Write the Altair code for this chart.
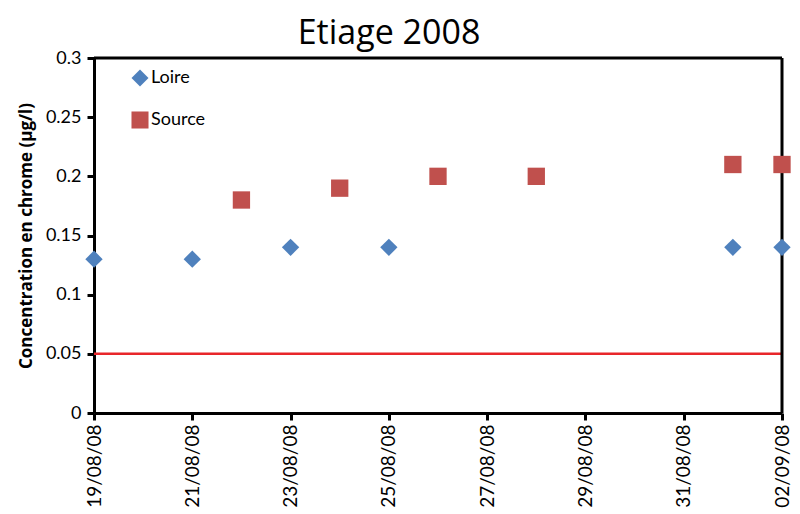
import altair as alt
import pandas as pd

loire_dates = ["2008-08-19", "2008-08-21", "2008-08-23", "2008-08-25", "2008-09-01", "2008-09-02"]
loire_values = [0.13, 0.13, 0.14, 0.14, 0.14, 0.14]
source_dates = ["2008-08-22", "2008-08-24", "2008-08-26", "2008-08-28", "2008-09-01", "2008-09-02"]
source_values = [0.18, 0.19, 0.20, 0.20, 0.21, 0.21]
threshold = 0.05
tick_dates = [(2008, 8, 19), (2008, 8, 21), (2008, 8, 23), (2008, 8, 25), (2008, 8, 27),
              (2008, 8, 29), (2008, 8, 31), (2008, 9, 2)]
y_max = 0.3

df = pd.DataFrame({
    "date": loire_dates + source_dates,
    "value": loire_values + source_values,
    "series": ["Loire"] * len(loire_dates) + ["Source"] * len(source_dates),
})

FONT = "Lato"
x_start = alt.DateTime(year=2008, month=8, date=19, utc=True)
x_end = alt.DateTime(year=2008, month=9, date=2, utc=True)

x_scale = alt.Scale(type="utc", domain=[x_start, x_end])
y_scale = alt.Scale(domain=[0, y_max], nice=False)

x = alt.X(
    "date:T",
    scale=x_scale,
    axis=alt.Axis(
        title=None,
        format="%d/%m/%y",
        values=[alt.DateTime(year=y, month=m, date=d, utc=True) for (y, m, d) in tick_dates],
        labelAngle=-90,
        labelAlign="right",
        labelBaseline="middle",
        labelFontSize=19,
        labelFont=FONT,
        labelColor="black",
        labelPadding=4,
        labelOverlap=False,
        domainColor="black",
        domainWidth=3,
        tickColor="black",
        tickWidth=3,
        tickSize=7,
        grid=False,
    ),
)

y = alt.Y(
    "value:Q",
    scale=y_scale,
    axis=alt.Axis(
        title="Concentration en chrome (µg/l)",
        titleFont="Open Sans",
        titleFontSize=17,
        titleFontWeight="bold",
        titleColor="black",
        titlePadding=10,
        values=[0, 0.05, 0.1, 0.15, 0.2, 0.25, 0.3],
        format="~g",
        labelFontSize=18,
        labelFont=FONT,
        labelColor="black",
        labelPadding=6,
        domainColor="black",
        domainWidth=3,
        tickColor="black",
        tickWidth=3,
        tickSize=7,
        grid=False,
    ),
)

points = alt.Chart(df).mark_point(filled=True, opacity=1, size=300).encode(
    x=x,
    y=y,
    color=alt.Color("series:N",
                    scale=alt.Scale(domain=["Loire", "Source"], range=["#4F81BD", "#C0504D"]),
                    legend=alt.Legend(title=None, orient="none", legendX=37, legendY=11,
                                      labelFont=FONT, labelFontSize=18, labelColor="black",
                                      symbolSize=290, rowPadding=24, labelOffset=2,
                                      symbolStrokeWidth=0)),
    shape=alt.Shape("series:N",
                    scale=alt.Scale(domain=["Loire", "Source"], range=["diamond", "square"]),
                    legend=None),
)

rule = alt.Chart(pd.DataFrame({"v": [threshold]})).mark_rule(color="#E8262A", strokeWidth=2.5).encode(
    y=alt.Y("v:Q", scale=y_scale)
)

top_border = alt.Chart(pd.DataFrame({"v": [y_max]})).mark_rule(color="black", strokeWidth=3).encode(
    y=alt.Y("v:Q", scale=y_scale)
)
right_border = alt.Chart(pd.DataFrame({"d": ["2008-09-02"]})).mark_rule(color="black", strokeWidth=3).encode(
    x=alt.X("d:T", scale=x_scale)
)

chart = alt.layer(rule, top_border, right_border, points).properties(
    width=688,
    height=355,
    title=alt.TitleParams("Etiage 2008", font="Open Sans", fontSize=34, fontWeight="normal",
                          color="black", anchor="middle", offset=-2, dx=-49),
    padding={"left": 86, "top": 50, "right": 10, "bottom": 97},
    autosize=alt.AutoSizeParams(type="none"),
).configure(background="white").configure_view(stroke=None)

chart.save("out.html", embed_options={"renderer": "svg", "actions": False})
